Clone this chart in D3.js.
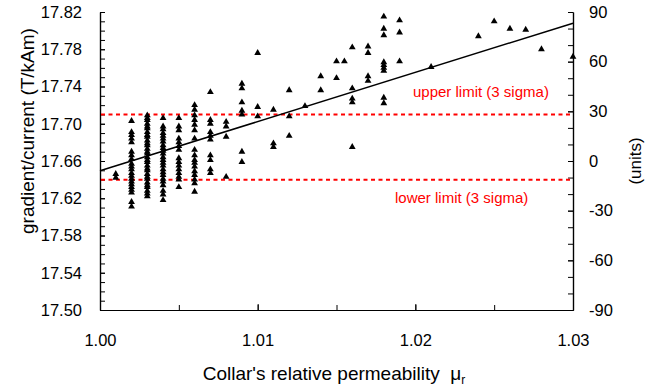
<!DOCTYPE html>
<html>
<head>
<meta charset="utf-8">
<script src="https://cdn.jsdelivr.net/npm/d3@7"></script>
<style>
  body { margin: 0; background: #fff; }
  svg { display: block; font-family: "Liberation Sans", Arial, sans-serif; }
</style>
</head>
<body>
<div id="chart"></div>
<script>
// permeability columns and the measured gradient/current values in each one
const permeability = [1.001, 1.002, 1.003, 1.004, 1.005, 1.006, 1.007, 1.008, 1.009, 1.010,
  1.011, 1.012, 1.013, 1.014, 1.015, 1.0155, 1.016, 1.017, 1.018, 1.019, 1.021, 1.024,
  1.025, 1.026, 1.027, 1.028, 1.030];

const gradient = [
  [17.646, 17.642],
  [17.703, 17.691, 17.688, 17.684, 17.680, 17.670, 17.666, 17.662, 17.657, 17.654, 17.651,
   17.647, 17.644, 17.641, 17.638, 17.635, 17.632, 17.629, 17.626, 17.616, 17.611],
  [17.709, 17.706, 17.704, 17.700, 17.697, 17.695, 17.691, 17.688, 17.686, 17.682, 17.679,
   17.677, 17.673, 17.670, 17.668, 17.664, 17.661, 17.659, 17.655, 17.652, 17.650, 17.646,
   17.643, 17.641, 17.637, 17.634, 17.632, 17.628, 17.625, 17.622],
  [17.706, 17.697, 17.694, 17.690, 17.687, 17.684, 17.681, 17.677, 17.674, 17.671, 17.668,
   17.664, 17.661, 17.658, 17.655, 17.651, 17.648, 17.645, 17.641, 17.638, 17.634, 17.628,
   17.624, 17.618],
  [17.706, 17.697, 17.693, 17.684, 17.680, 17.676, 17.672, 17.663, 17.659, 17.655, 17.651,
   17.647, 17.643, 17.640, 17.632],
  [17.720, 17.715, 17.709, 17.704, 17.699, 17.693, 17.684, 17.672, 17.666, 17.661, 17.658,
   17.654, 17.649, 17.645, 17.640, 17.636, 17.627],
  [17.734, 17.704, 17.700, 17.691, 17.687, 17.683, 17.666, 17.661, 17.651, 17.647],
  [17.702, 17.697, 17.686, 17.643],
  [17.743, 17.738, 17.723, 17.714, 17.710, 17.670, 17.659],
  [17.776, 17.718, 17.708],
  [17.715, 17.679, 17.675],
  [17.736, 17.708, 17.687],
  [17.719],
  [17.751, 17.736],
  [17.767, 17.749],
  [17.767],
  [17.782, 17.738, 17.727, 17.723, 17.675],
  [17.783, 17.776, 17.751, 17.746],
  [17.815, 17.802, 17.795, 17.766, 17.763, 17.760, 17.757, 17.728, 17.722],
  [17.811, 17.798, 17.767],
  [17.761],
  [17.794],
  [17.810],
  [17.802],
  [17.801],
  [17.780],
  [17.772]
];

// fitted line end points [mu, gradient]
const fitLine = [[1.000, 17.6495], [1.030, 17.808]];

const limitValues = [17.710, 17.640];
const limitLabels = ["upper limit (3 sigma)", "lower limit (3 sigma)"];

const xTicks = [1.00, 1.01, 1.02, 1.03];
const yTicks = [17.50, 17.54, 17.58, 17.62, 17.66, 17.70, 17.74, 17.78, 17.82];
const unitTicks = [-90, -60, -30, 0, 30, 60, 90];

const W = 662, H = 388;
const margin = {top: 12, right: 89, bottom: 78, left: 100};

const svg = d3.select('#chart').append('svg')
  .attr('width', W).attr('height', H);

const x = d3.scaleLinear().domain([1.00, 1.03]).range([margin.left, W - margin.right]);
const y = d3.scaleLinear().domain([17.50, 17.82]).range([H - margin.bottom, margin.top]);
const y2 = d3.scaleLinear().domain([-90, 90]).range([H - margin.bottom, margin.top]);

const points = [];
permeability.forEach((mu, i) => gradient[i].forEach(g => points.push({mu, g})));

// axes: ticks point into the plot
const xAxis = d3.axisBottom(x).ticks(6).tickSizeInner(-5).tickSizeOuter(0).tickFormat('');
svg.append('g').attr('transform', `translate(0,${y.range()[0]})`).call(xAxis);
svg.append('g').attr('transform', `translate(0,${y.range()[0]})`)
  .call(d3.axisBottom(x).tickValues(xTicks).tickSizeInner(-6).tickSizeOuter(0).tickPadding(24)
    .tickFormat(d3.format('.2f')));

svg.append('g').attr('transform', `translate(${x.range()[0]},0)`)
  .call(d3.axisLeft(y).ticks(32).tickSizeInner(-5).tickSizeOuter(0).tickFormat(''));
svg.append('g').attr('transform', `translate(${x.range()[0]},0)`)
  .call(d3.axisLeft(y).tickValues(yTicks).tickSizeInner(-5).tickSizeOuter(0).tickPadding(18)
    .tickFormat(d3.format('.2f')));

svg.append('g').attr('transform', `translate(${x.range()[1]},0)`)
  .call(d3.axisRight(y2).ticks(18).tickSizeInner(-5).tickSizeOuter(0).tickFormat(''));
svg.append('g').attr('transform', `translate(${x.range()[1]},0)`)
  .call(d3.axisRight(y2).tickValues(unitTicks).tickSizeInner(-5).tickSizeOuter(0).tickPadding(16)
    .tickFormat(d => String(d)));

svg.selectAll('.domain').attr('stroke', '#000').attr('stroke-width', 1.2);
svg.selectAll('.tick line').attr('stroke', '#000');
svg.selectAll('.tick text').attr('font-size', 16.5).attr('fill', '#000')
  .attr('font-family', '"Liberation Sans", Arial, sans-serif');

// limits
svg.append('g').selectAll('line').data(limitValues).join('line')
  .attr('x1', x.range()[0] + 1).attr('x2', x.range()[1])
  .attr('y1', d => y(d)).attr('y2', d => y(d))
  .attr('stroke', '#ff0000').attr('stroke-width', 2).attr('stroke-dasharray', '4,3.5');

svg.append('g').selectAll('text').data(limitLabels).join('text')
  .attr('x', (d, i) => i === 0 ? 413 : 395)
  .attr('y', (d, i) => y(limitValues[i]) + (i === 0 ? -17 : 23))
  .attr('fill', '#ff0000').attr('font-size', 15)
  .text(d => d);

// points
svg.append('g').selectAll('path').data(points).join('path')
  .attr('d', d3.symbol(d3.symbolTriangle, 20))
  .attr('transform', d => `translate(${x(d.mu)},${y(d.g)})`)
  .attr('fill', '#000');

// fit
svg.append('path')
  .datum(fitLine)
  .attr('d', d3.line().x(d => x(d[0])).y(d => y(d[1])))
  .attr('stroke', '#000').attr('stroke-width', 1.5).attr('fill', 'none');

// titles
svg.append('text')
  .attr('transform', 'translate(34,131) rotate(-90)')
  .attr('text-anchor', 'middle').attr('font-size', 19)
  .text('gradient/current (T/kAm)');

svg.append('text')
  .attr('transform', 'translate(641,161) rotate(-90)')
  .attr('text-anchor', 'middle').attr('font-size', 17)
  .text('(units)');

const xt = svg.append('text')
  .attr('x', 334).attr('y', 380)
  .attr('text-anchor', 'middle').attr('font-size', 19);
xt.append('tspan').text("Collar's relative permeability\u00a0\u00a0μ");
xt.append('tspan').attr('font-size', 12).attr('dy', 4).text('r');
</script>
</body>
</html>
